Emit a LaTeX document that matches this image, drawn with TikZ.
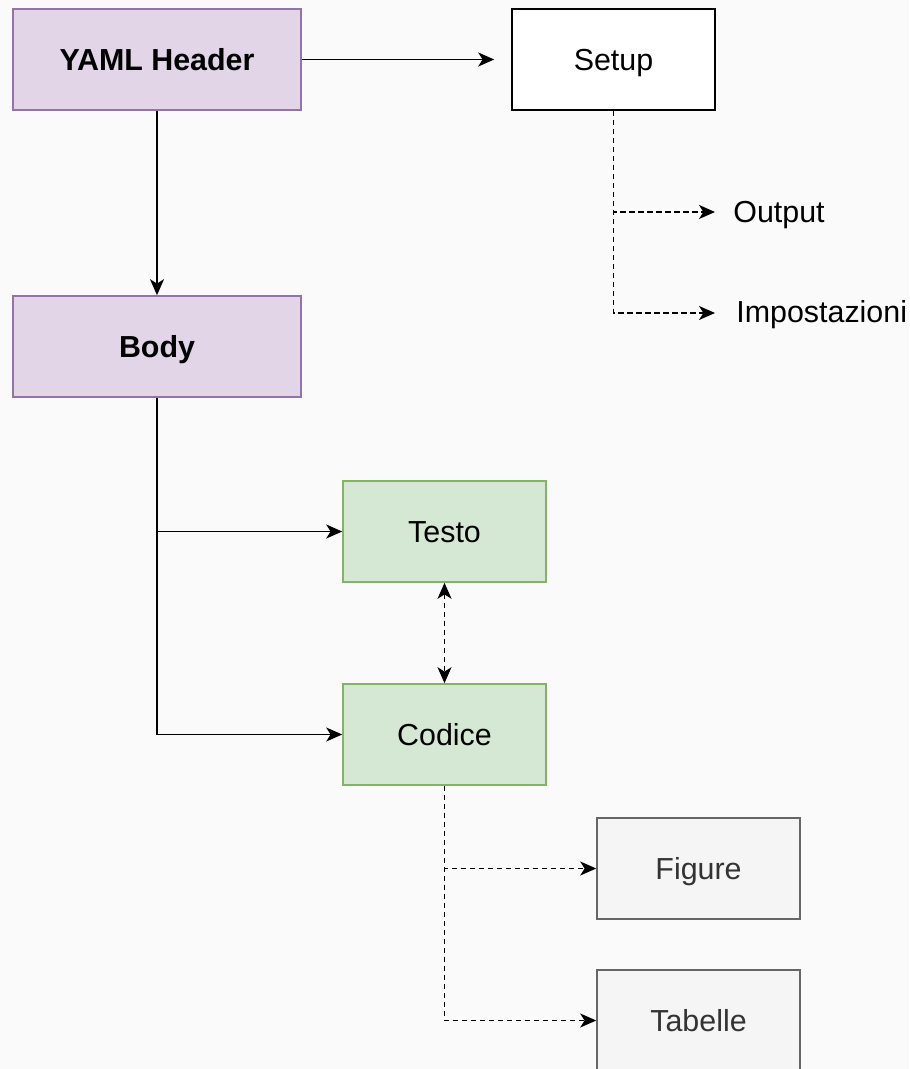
\documentclass[tikz,border=0pt]{standalone}
\usepackage{fontspec}
\setmainfont{Liberation Sans}
\usetikzlibrary{arrows.meta}

\definecolor{bgcol}{HTML}{FAFAFA}
\definecolor{purplefill}{HTML}{E1D5E7}
\definecolor{purpleline}{HTML}{9673A6}
\definecolor{greenfill}{HTML}{D5E8D4}
\definecolor{greenline}{HTML}{82B366}
\definecolor{grayfill}{HTML}{F5F5F5}
\definecolor{grayline}{HTML}{666666}
\definecolor{graytext}{HTML}{333333}

\tikzset{
  txt/.style={font=\fontsize{15.2}{18}\selectfont},
  boxtxt/.style={text height=10.9pt, text depth=0pt},
  widebox/.style={boxtxt, draw=purpleline, fill=purplefill, line width=0.8pt,
    minimum width=144pt, minimum height=50.5pt, font=\fontsize{15.2}{18}\selectfont\bfseries},
  smallbox/.style={txt, boxtxt, draw, fill=white, line width=0.8pt,
    minimum width=101.5pt, minimum height=50.5pt},
  greenbox/.style={smallbox, draw=greenline, fill=greenfill},
  graybox/.style={smallbox, draw=grayline, fill=grayfill, text=graytext},
  link/.style={-{Stealth[length=8pt,width=7pt,inset=2.2pt]}, line width=0.8pt},
  dlink/.style={link, dash pattern=on 2.6pt off 1.9pt}
}

\begin{document}
\begin{tikzpicture}[x=0.5pt,y=-0.5pt]

  \fill[bgcol] (0,0) rectangle (909,1069);
  \useasboundingbox (0,0) rectangle (909,1069);

  % blocks
  \node[widebox] (yaml) at (157,59.5) {YAML Header};
  \node[smallbox] (setup) at (613.5,59.5) {Setup};
  \node[widebox] (body) at (157,346.5) {Body};
  \node[greenbox] (testo) at (444.5,531.5) {Testo};
  \node[greenbox] (codice) at (444.5,734.5) {Codice};
  \node[graybox] (figure) at (698.5,868.5) {Figure};
  \node[graybox] (tabelle) at (698.5,1020.5) {Tabelle};

  % plain labels
  \node[txt, anchor=base west, inner sep=0] (output) at (733,223) {Output};
  \node[txt, anchor=base west, inner sep=0] (impost) at (736,322) {Impostazioni};
  \coordinate (outtip) at (715,212);
  \coordinate (imptip) at (715,313);

  % connectors
  \draw[link, shorten >=8.5pt] (yaml) -- (setup);
  \draw[link] (yaml) -- (body);
  \draw[link] (body.south) |- (testo.west);
  \draw[link] (body.south) |- (codice.west);
  \draw[dlink, {Stealth[length=8pt,width=7pt,inset=2.2pt]}-{Stealth[length=8pt,width=7pt,inset=2.2pt]}] (testo) -- (codice);
  \draw[dlink] (setup.south) |- (outtip);
  \draw[dlink] (setup.south) |- (imptip);
  \draw[dlink] (codice.south) |- (figure.west);
  \draw[dlink] (codice.south) |- (tabelle.west);

\end{tikzpicture}
\end{document}
